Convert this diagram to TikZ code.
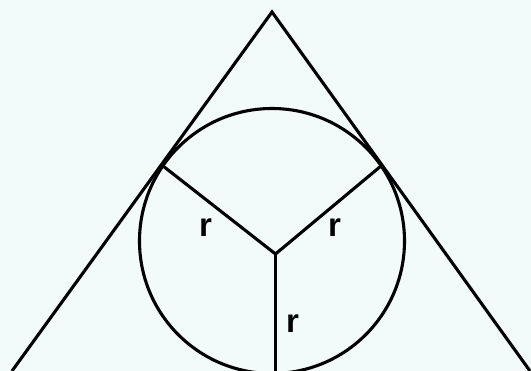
\documentclass[tikz,border=0pt]{standalone}
\usepackage{fontspec}
\setmainfont{Liberation Sans}
\definecolor{bgmint}{RGB}{243,251,250}
\begin{document}
\begin{tikzpicture}[x=1pt,y=-1pt,
  edge/.style={line width=3.1pt,line join=miter},
  lab/.style={inner sep=0pt,font=\fontsize{33}{33}\selectfont\bfseries}]
\fill[bgmint] (0,0) rectangle (531,371);
\useasboundingbox (0,0) rectangle (531,371);
\coordinate (A) at (272,12);
\coordinate (L) at (12,371);
\coordinate (R) at (530,371);
\coordinate (O) at (272,241);
\coordinate (C) at (275.5,254);
\coordinate (T1) at (163,166);
\coordinate (T2) at (381,166);
\coordinate (B) at (275.5,380);
\begin{scope}
\clip (0,0) rectangle (531,371);
\draw[edge] (L) -- (A) -- (R);
\draw[edge] (O) circle[radius=132.5];
\draw[edge] (T1) -- (C) -- (T2);
\draw[edge] (C) -- (B);
\end{scope}
\node[lab] (r1) at (205.5,228) {r};
\node[lab] (r2) at (334.5,228) {r};
\node[lab] (r3) at (292.5,323.5) {r};
\end{tikzpicture}
\end{document}
